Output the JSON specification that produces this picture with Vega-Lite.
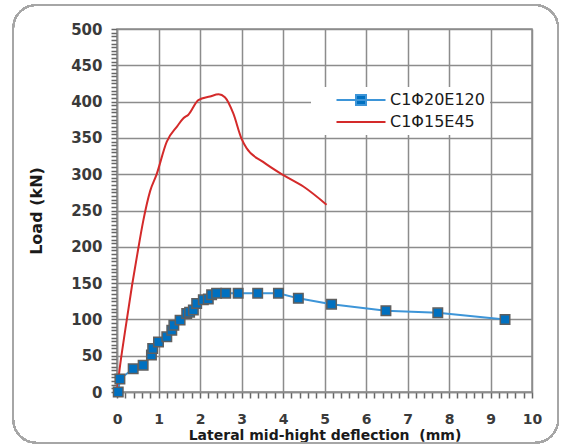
{
  "$schema": "https://vega.github.io/schema/vega-lite/v6.json",
  "width": 415,
  "height": 363,
  "autosize": {"type": "none"},
  "padding": {"left": 117, "top": 29, "right": 29, "bottom": 56},
  "background": "white",
  "config": {
    "view": {"stroke": "#8c8c8c", "strokeWidth": 1.5},
    "axis": {
      "gridColor": "#8c8c8c",
      "gridWidth": 1.5,
      "domainColor": "#8c8c8c",
      "domainWidth": 1.5,
      "ticks": true,
      "tickOpacity": 1,
      "tickColor": "#666666",
      "tickWidth": 1.5,
      "labelFont": "DejaVu Sans",
      "labelFontWeight": "bold",
      "labelFontSize": 15,
      "labelColor": "#3a3a3a",
      "titleFont": "DejaVu Sans",
      "titleFontWeight": "bold",
      "titleColor": "#1a1a1a",
      "labelOverlap": false,
      "labelFlush": false
    }
  },
  "data": {
    "values": [
      {"series": "C1Φ20E120", "d": 0.03, "load": 0},
      {"series": "C1Φ20E120", "d": 0.07, "load": 18},
      {"series": "C1Φ20E120", "d": 0.39, "load": 32},
      {"series": "C1Φ20E120", "d": 0.63, "load": 37},
      {"series": "C1Φ20E120", "d": 0.83, "load": 51},
      {"series": "C1Φ20E120", "d": 0.86, "load": 60},
      {"series": "C1Φ20E120", "d": 1.0, "load": 69},
      {"series": "C1Φ20E120", "d": 1.2, "load": 76},
      {"series": "C1Φ20E120", "d": 1.32, "load": 85},
      {"series": "C1Φ20E120", "d": 1.37, "load": 92},
      {"series": "C1Φ20E120", "d": 1.52, "load": 99},
      {"series": "C1Φ20E120", "d": 1.68, "load": 108},
      {"series": "C1Φ20E120", "d": 1.75, "load": 110},
      {"series": "C1Φ20E120", "d": 1.84, "load": 113},
      {"series": "C1Φ20E120", "d": 1.92, "load": 122},
      {"series": "C1Φ20E120", "d": 2.08, "load": 127},
      {"series": "C1Φ20E120", "d": 2.2, "load": 128},
      {"series": "C1Φ20E120", "d": 2.28, "load": 134},
      {"series": "C1Φ20E120", "d": 2.4, "load": 136},
      {"series": "C1Φ20E120", "d": 2.62, "load": 136},
      {"series": "C1Φ20E120", "d": 2.92, "load": 136},
      {"series": "C1Φ20E120", "d": 3.39, "load": 136},
      {"series": "C1Φ20E120", "d": 3.89, "load": 136},
      {"series": "C1Φ20E120", "d": 4.37, "load": 129},
      {"series": "C1Φ20E120", "d": 5.17, "load": 121},
      {"series": "C1Φ20E120", "d": 6.48, "load": 112},
      {"series": "C1Φ20E120", "d": 7.73, "load": 109},
      {"series": "C1Φ20E120", "d": 9.35, "load": 100},
      {"series": "C1Φ15E45", "d": 0.0, "load": 0},
      {"series": "C1Φ15E45", "d": 0.06, "load": 30},
      {"series": "C1Φ15E45", "d": 0.19, "load": 82},
      {"series": "C1Φ15E45", "d": 0.36, "load": 146},
      {"series": "C1Φ15E45", "d": 0.49, "load": 190},
      {"series": "C1Φ15E45", "d": 0.63, "load": 235},
      {"series": "C1Φ15E45", "d": 0.8, "load": 277},
      {"series": "C1Φ15E45", "d": 0.95, "load": 299},
      {"series": "C1Φ15E45", "d": 1.2, "load": 345},
      {"series": "C1Φ15E45", "d": 1.45, "load": 366},
      {"series": "C1Φ15E45", "d": 1.6, "load": 377},
      {"series": "C1Φ15E45", "d": 1.72, "load": 382},
      {"series": "C1Φ15E45", "d": 1.96, "load": 402},
      {"series": "C1Φ15E45", "d": 2.24, "load": 407},
      {"series": "C1Φ15E45", "d": 2.45, "load": 410},
      {"series": "C1Φ15E45", "d": 2.6, "load": 406},
      {"series": "C1Φ15E45", "d": 2.8, "load": 384},
      {"series": "C1Φ15E45", "d": 3.0, "load": 349},
      {"series": "C1Φ15E45", "d": 3.12, "load": 336},
      {"series": "C1Φ15E45", "d": 3.52, "load": 317},
      {"series": "C1Φ15E45", "d": 4.0, "load": 299},
      {"series": "C1Φ15E45", "d": 4.49, "load": 283},
      {"series": "C1Φ15E45", "d": 5.05, "load": 258}
    ]
  },
  "encoding": {
    "x": {
      "field": "d",
      "type": "quantitative",
      "scale": {"domain": [0, 10], "nice": false, "zero": false},
      "axis": {
        "title": "Lateral mid-hight deflection\u00a0 (mm)",
        "titleFontSize": 14,
        "titlePadding": 2,
        "values": [0,0.2,0.4,0.6,0.8,1,1.2,1.4,1.6,1.8,2,2.2,2.4,2.6,2.8,3,3.2,3.4,3.6,3.8,4,4.2,4.4,4.6,4.8,5,5.2,5.4,5.6,5.8,6,6.2,6.4,6.6,6.8,7,7.2,7.4,7.6,7.8,8,8.2,8.4,8.6,8.8,9,9.2,9.4,9.6,9.8,10],
        "labelExpr": "datum.value === round(datum.value) ? format(datum.value, 'd') : ''",
        "gridOpacity": {"condition": {"test": "datum.value === round(datum.value)", "value": 1}, "value": 0},
        "tickSize": 6,
        "labelFontSize": 14,
        "labelPadding": 14
      }
    },
    "y": {
      "field": "load",
      "type": "quantitative",
      "scale": {"domain": [0, 500], "nice": false},
      "axis": {
        "title": "Load (kN)",
        "titleFontSize": 16,
        "titlePadding": 26,
        "values": [0,5,10,15,20,25,30,35,40,45,50,55,60,65,70,75,80,85,90,95,100,105,110,115,120,125,130,135,140,145,150,155,160,165,170,175,180,185,190,195,200,205,210,215,220,225,230,235,240,245,250,255,260,265,270,275,280,285,290,295,300,305,310,315,320,325,330,335,340,345,350,355,360,365,370,375,380,385,390,395,400,405,410,415,420,425,430,435,440,445,450,455,460,465,470,475,480,485,490,495,500],
        "labelExpr": "datum.value % 50 === 0 ? format(datum.value, 'd') : ''",
        "gridOpacity": {"condition": {"test": "datum.value % 50 === 0", "value": 1}, "value": 0},
        "tickSize": 6,
        "labelPadding": 9
      }
    }
  },
  "layer": [
    {
      "mark": {"type": "rect", "fill": null, "stroke": "#a6a6a6", "strokeWidth": 1.5, "cornerRadius": 23, "clip": false},
      "encoding": {
        "x": {"datum": -2.5},
        "x2": {"datum": 10.63},
        "y": {"datum": 533},
        "y2": {"datum": -70}
      }
    },
    {
      "transform": [{"filter": "datum.series === 'C1Φ15E45'"}],
      "mark": {"type": "line", "strokeWidth": 2, "interpolate": "monotone"},
      "encoding": {
        "color": {
          "field": "series",
          "type": "nominal",
          "scale": {"domain": ["C1Φ20E120", "C1Φ15E45"], "range": ["#3d95d8", "#d42a2a"]},
          "legend": {
            "title": "\u00a0",
            "titleOrient": "left",
            "titleFontSize": 15,
            "titlePadding": 37,
            "orient": "none",
            "legendX": 194,
            "legendY": 58,
            "padding": 5,
            "fillColor": "white",
            "labelFont": "DejaVu Sans",
            "labelFontSize": 16,
            "labelColor": "#1a1a1a",
            "symbolType": "M-4.9,0H4.9",
            "symbolSize": 100,
            "symbolStrokeWidth": 2,
            "labelOffset": 21,
            "rowPadding": 5,
            "labelExpr": "datum.label + '\u00a0\u00a0\u00a0\u00a0'",
            "encode": {
              "symbols": {
                "update": {
                  "shape": [{"test": "datum.value === 'C1Φ20E120'", "value": "M-4.9,0H4.9M-1,-1H1V1H-1Z"}, {"value": "M-4.9,0H4.9"}],
                  "fill": [{"test": "datum.value === 'C1Φ20E120'", "value": "#0070C0"}, {"value": "transparent"}]
                }
              }
            }
          }
        }
      }
    },
    {
      "transform": [{"filter": "datum.series === 'C1Φ20E120'"}],
      "mark": {"type": "line", "strokeWidth": 2},
      "encoding": {"color": {"field": "series", "type": "nominal"}}
    },
    {
      "transform": [{"filter": "datum.series === 'C1Φ20E120'"}],
      "mark": {"type": "point", "shape": "square", "filled": true, "size": 90, "fill": "#0070C0", "stroke": "#5f5f5f", "strokeWidth": 1.5, "opacity": 1}
    }
  ]
}
